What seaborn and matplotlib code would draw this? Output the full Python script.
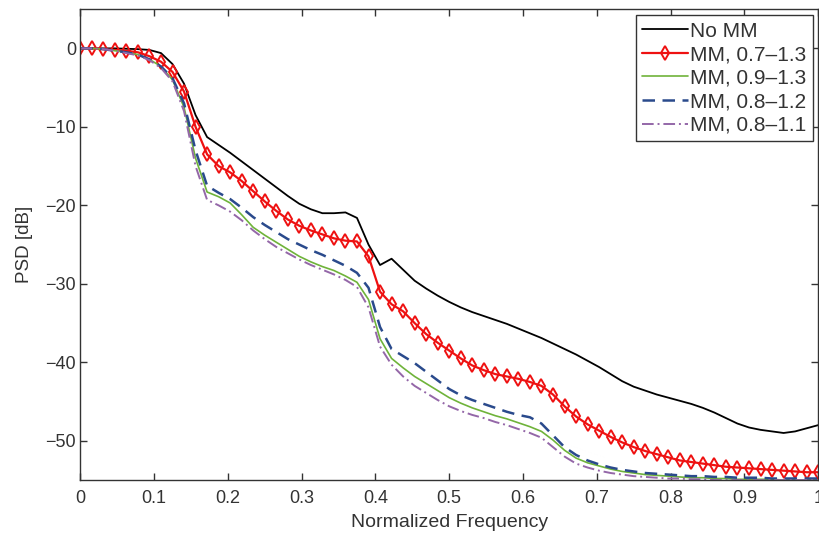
import numpy as np
import pandas as pd
import matplotlib
matplotlib.use("Agg")
import matplotlib.pyplot as plt
import seaborn as sns

sns.set_style("ticks")
plt.rcParams['font.family'] = ['Liberation Sans', 'DejaVu Sans']

# frequency grid (step 1/64) and PSD values in dB
freq = [i / 64 for i in range(65)]

no_mm = [0, 0, 0, 0, -0.05, -0.1, -0.2, -0.6, -2.0, -4.5,
         -8.5, -11.3, -12.3, -13.3, -14.4, -15.5, -16.6, -17.7, -18.8, -19.8,
         -20.5, -21.0, -21.0, -20.9, -21.6, -25.0, -27.6, -26.8, -28.2, -29.6,
         -30.6, -31.5, -32.3, -33.0, -33.6, -34.1, -34.6, -35.1, -35.7, -36.3,
         -36.9, -37.6, -38.3, -39.0, -39.8, -40.6, -41.5, -42.4, -43.1, -43.6,
         -44.1, -44.5, -44.9, -45.3, -45.8, -46.4, -47.1, -47.8, -48.3, -48.6,
         -48.8, -49.0, -48.8, -48.4, -48.0]

mm_07_13 = [0, 0, -0.1, -0.2, -0.3, -0.5, -1.0, -1.7, -3.0, -5.5,
            -10.0, -13.5, -15.0, -15.8, -16.9, -18.2, -19.5, -20.7, -21.8, -22.6,
            -23.2, -23.7, -24.2, -24.5, -24.6, -26.5, -31.0, -32.6, -33.5, -35.0,
            -36.4, -37.5, -38.5, -39.5, -40.4, -41.0, -41.5, -41.8, -42.1, -42.5,
            -43.0, -44.1, -45.6, -46.9, -47.9, -48.7, -49.5, -50.2, -50.8, -51.3,
            -51.7, -52.1, -52.5, -52.7, -52.9, -53.1, -53.3, -53.4, -53.5, -53.6,
            -53.7, -53.8, -53.9, -54.0, -54.0]

mm_09_13 = [0, 0, -0.1, -0.3, -0.5, -0.8, -1.4, -2.3, -4.0, -7.5,
            -14.0, -18.3, -18.9, -19.7, -21.2, -22.8, -23.8, -24.7, -25.6, -26.5,
            -27.2, -27.8, -28.3, -29.0, -29.8, -32.0, -37.0, -39.5, -40.7, -41.8,
            -42.7, -43.6, -44.5, -45.2, -45.8, -46.3, -46.8, -47.2, -47.7, -48.2,
            -48.8, -49.9, -51.2, -52.2, -52.8, -53.2, -53.6, -53.9, -54.1, -54.3,
            -54.4, -54.5, -54.6, -54.7, -54.7, -54.8, -54.8, -54.9, -54.9, -54.9,
            -54.9, -55.0, -55.0, -55.0, -55.0]

mm_08_12 = [0, 0, -0.1, -0.3, -0.5, -0.8, -1.4, -2.3, -3.8, -7.0,
            -13.0, -17.5, -18.4, -19.2, -20.3, -21.5, -22.5, -23.4, -24.3, -25.0,
            -25.7, -26.3, -27.0, -27.7, -28.6, -30.5, -35.5, -38.3, -39.2, -40.1,
            -41.2, -42.3, -43.4, -44.2, -44.8, -45.3, -45.8, -46.3, -46.7, -47.0,
            -47.8, -49.3, -50.8, -51.8, -52.5, -53.0, -53.4, -53.7, -53.9, -54.1,
            -54.2, -54.3, -54.4, -54.5, -54.5, -54.6, -54.6, -54.7, -54.7, -54.7,
            -54.8, -54.8, -54.8, -54.8, -54.8]

mm_08_11 = [0, 0, -0.1, -0.3, -0.6, -0.9, -1.5, -2.5, -4.2, -8.0,
            -15.0, -19.3, -20.0, -20.8, -21.9, -23.2, -24.3, -25.3, -26.1, -26.9,
            -27.6, -28.2, -28.8, -29.5, -30.4, -33.0, -38.0, -40.3, -41.8, -43.0,
            -43.9, -44.8, -45.6, -46.2, -46.7, -47.1, -47.6, -48.0, -48.5, -49.0,
            -49.6, -50.8, -52.0, -52.9, -53.4, -53.8, -54.1, -54.3, -54.5, -54.6,
            -54.7, -54.8, -54.8, -54.9, -54.9, -55.0, -55.0, -55.0, -55.0, -55.0,
            -55.0, -55.0, -55.0, -55.0, -55.0]

fig, ax = plt.subplots(figsize=(8.19, 5.37), dpi=100)
fig.subplots_adjust(left=0.098, right=0.999, bottom=0.106, top=0.983)

sns.lineplot(x=freq, y=no_mm, ax=ax, color="black", lw=1.3, label="No MM")
sns.lineplot(x=freq, y=mm_07_13, ax=ax, color="#ee1111", lw=1.6, marker="d",
             markersize=7, markerfacecolor="none", markeredgecolor="#ee1111",
             markeredgewidth=1.4, label="MM, 0.7\u20131.3")
sns.lineplot(x=freq, y=mm_09_13, ax=ax, color="#6fb33a", lw=1.2, label="MM, 0.9\u20131.3")
sns.lineplot(x=freq, y=mm_08_12, ax=ax, color="#2a4a8c", lw=1.8,
             linestyle=(0, (5, 3)), label="MM, 0.8\u20131.2")
sns.lineplot(x=freq, y=mm_08_11, ax=ax, color="#9467a8", lw=1.4,
             linestyle=(0, (6, 2, 1, 2)), label="MM, 0.8\u20131.1")

ax.set_xlim(0, 1)
ax.set_ylim(-55, 5)
ax.set_xticks(np.arange(0, 1.01, 0.1))
ax.set_xticklabels(["0", "0.1", "0.2", "0.3", "0.4", "0.5", "0.6", "0.7", "0.8", "0.9", "1"])
ax.set_yticks([0, -10, -20, -30, -40, -50])
ax.set_yticklabels(["0", "\u221210", "\u221220", "\u221230", "\u221240", "\u221250"])
ax.tick_params(direction="in", length=5, width=1, top=True, right=True,
               labelsize=13, colors="#333333")
ax.tick_params(axis="x", pad=7)
ax.tick_params(axis="y", pad=3)
for s in ax.spines.values():
    s.set_color("#333333")
    s.set_linewidth(1.0)
    s.set_visible(True)

ax.set_xlabel("Normalized Frequency", fontsize=14, color="#333333", labelpad=5)
ax.set_ylabel("PSD [dB]", fontsize=13.5, color="#333333", labelpad=9)

leg = ax.legend(loc="upper left", bbox_to_anchor=(0.753, 0.987), fontsize=15,
                frameon=True, fancybox=False, framealpha=1, edgecolor="#333333",
                handlelength=2.2, labelspacing=0.22, borderpad=0.3,
                handletextpad=0.1, borderaxespad=0)
leg.get_frame().set_linewidth(1.0)
for t in leg.get_texts():
    t.set_color("#333333")

fig.savefig("out.png", dpi=100)
